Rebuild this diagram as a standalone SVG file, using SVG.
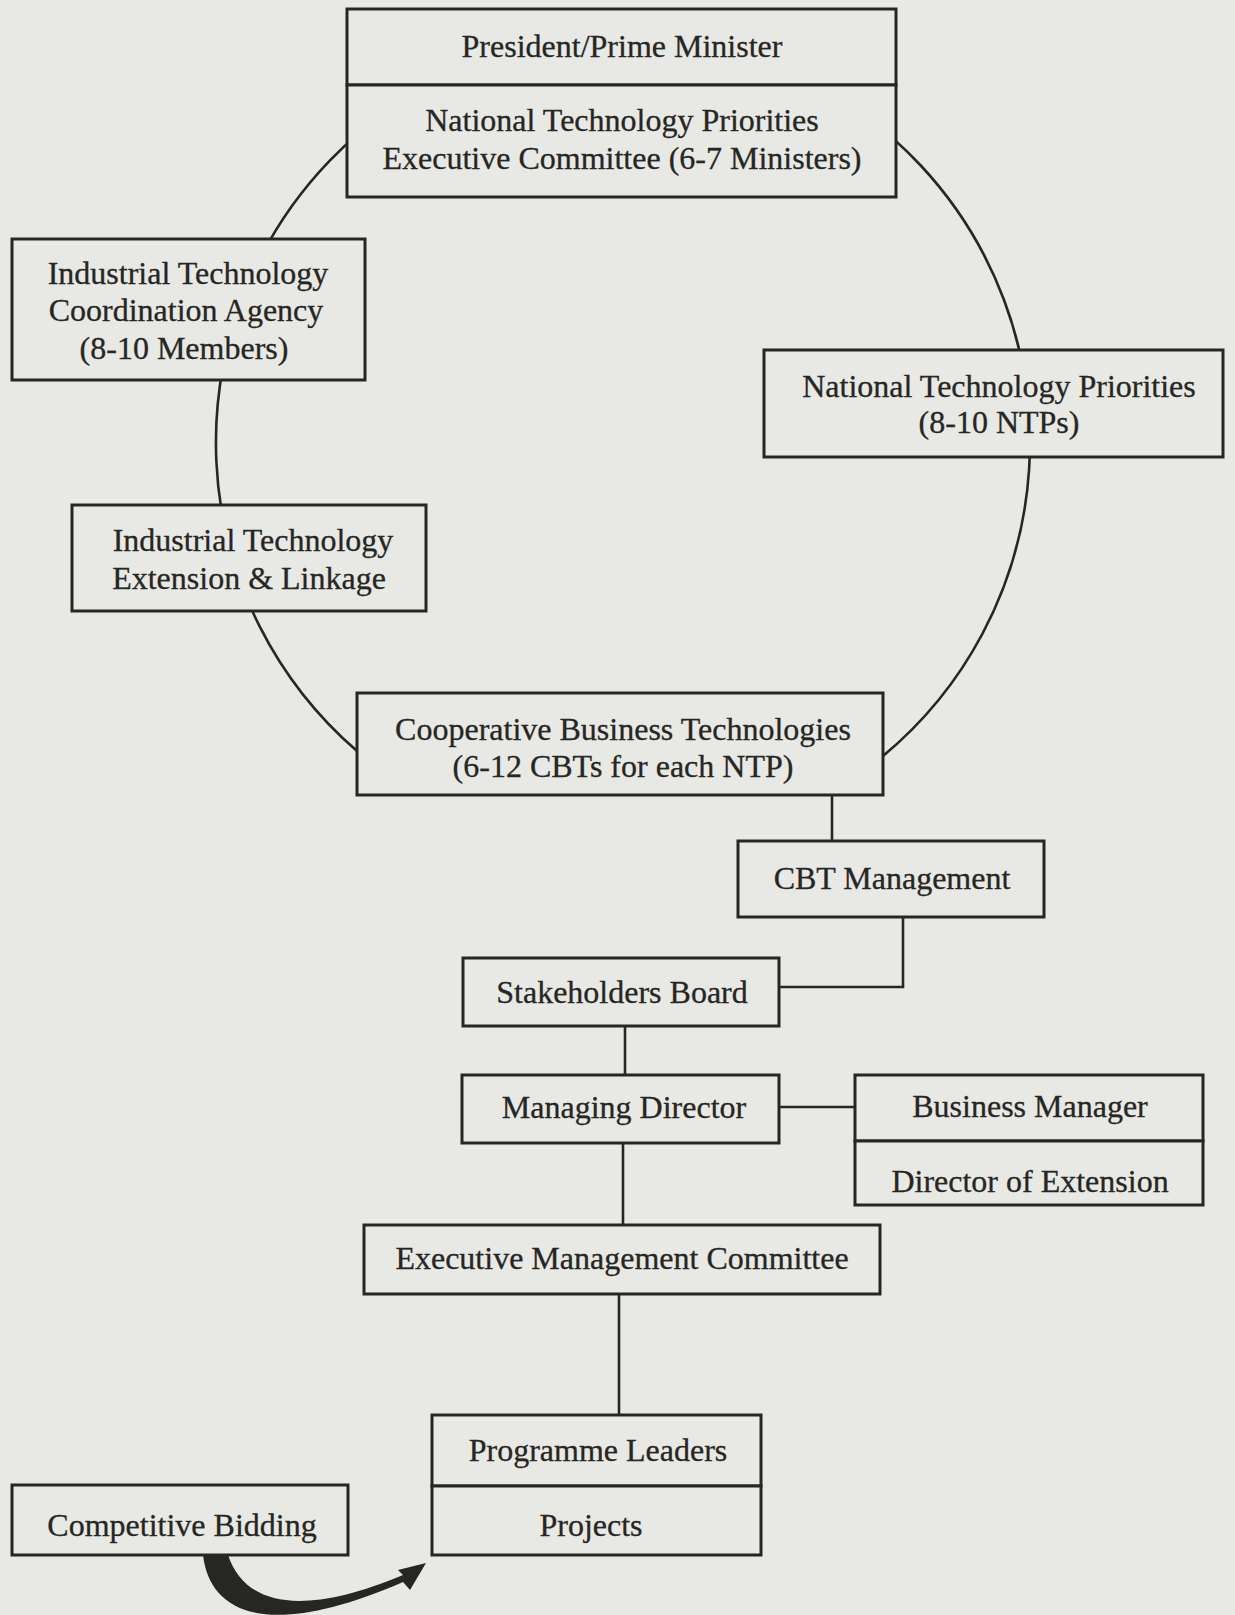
<svg xmlns="http://www.w3.org/2000/svg" width="1235" height="1615" viewBox="0 0 1235 1615">
<style>
.bx{fill:#e8e8e5;stroke:#262622;stroke-width:3}
.ln{fill:none;stroke:#262622;stroke-width:2.6}
text{font-family:"Liberation Serif","Times New Roman",serif;font-size:32px;fill:#262622;stroke:#262622;stroke-width:0.3;text-anchor:middle}
</style>
<rect width="1235" height="1615" fill="#e8e8e5"/>
<g id="connectors">
<path class="ln" d="M357 751 A407 407 0 1 1 883 756"/>
<path class="ln" d="M832 795 V841"/>
<path class="ln" d="M903 917 V987 H779"/>
<path class="ln" d="M625 1026 V1075"/>
<path class="ln" d="M779 1107 H855"/>
<path class="ln" d="M623 1143 V1225"/>
<path class="ln" d="M619 1294 V1415"/>
<path fill="#262622" d="M203 1555 C210 1615 270 1640 403 1582 L410 1590 L426 1563 L398 1570 L403 1575 C300 1618 245 1605 228 1555 Z"/>
</g>
<g id="pm">
<rect class="bx" x="347" y="9" width="549" height="76"/>
<text x="622" y="57">President/Prime Minister</text>
</g>
<g id="ntpec">
<rect class="bx" x="347" y="85" width="549" height="112"/>
<text x="622" y="131">National Technology Priorities</text>
<text x="622" y="169">Executive Committee (6-7 Ministers)</text>
</g>
<g id="itca">
<rect class="bx" x="12" y="239" width="353" height="141"/>
<text x="188" y="284">Industrial Technology</text>
<text x="186" y="321">Coordination Agency</text>
<text x="184" y="359">(8-10 Members)</text>
</g>
<g id="ntp">
<rect class="bx" x="764" y="350" width="459" height="107"/>
<text x="999" y="397">National Technology Priorities</text>
<text x="999" y="433">(8-10 NTPs)</text>
</g>
<g id="itel">
<rect class="bx" x="72" y="505" width="354" height="106"/>
<text x="253" y="551">Industrial Technology</text>
<text x="249" y="589">Extension &amp; Linkage</text>
</g>
<g id="cbt">
<rect class="bx" x="357" y="693" width="526" height="102"/>
<text x="623" y="740">Cooperative Business Technologies</text>
<text x="623" y="777">(6-12 CBTs for each NTP)</text>
</g>
<g id="cbtm">
<rect class="bx" x="738" y="841" width="306" height="76"/>
<text x="892" y="889">CBT Management</text>
</g>
<g id="sb">
<rect class="bx" x="463" y="958" width="316" height="68"/>
<text x="622" y="1003">Stakeholders Board</text>
</g>
<g id="md">
<rect class="bx" x="462" y="1075" width="317" height="68"/>
<text x="624" y="1118">Managing Director</text>
</g>
<g id="bm">
<rect class="bx" x="855" y="1075" width="348" height="66"/>
<text x="1030" y="1117">Business Manager</text>
</g>
<g id="de">
<rect class="bx" x="855" y="1141" width="348" height="64"/>
<text x="1030" y="1192">Director of Extension</text>
</g>
<g id="emc">
<rect class="bx" x="364" y="1225" width="516" height="69"/>
<text x="622" y="1269">Executive Management Committee</text>
</g>
<g id="pl">
<rect class="bx" x="432" y="1415" width="329" height="71"/>
<text x="598" y="1461">Programme Leaders</text>
</g>
<g id="proj">
<rect class="bx" x="432" y="1486" width="329" height="69"/>
<text x="591" y="1536">Projects</text>
</g>
<g id="cb">
<rect class="bx" x="12" y="1485" width="336" height="70"/>
<text x="182" y="1536">Competitive Bidding</text>
</g>
</svg>
